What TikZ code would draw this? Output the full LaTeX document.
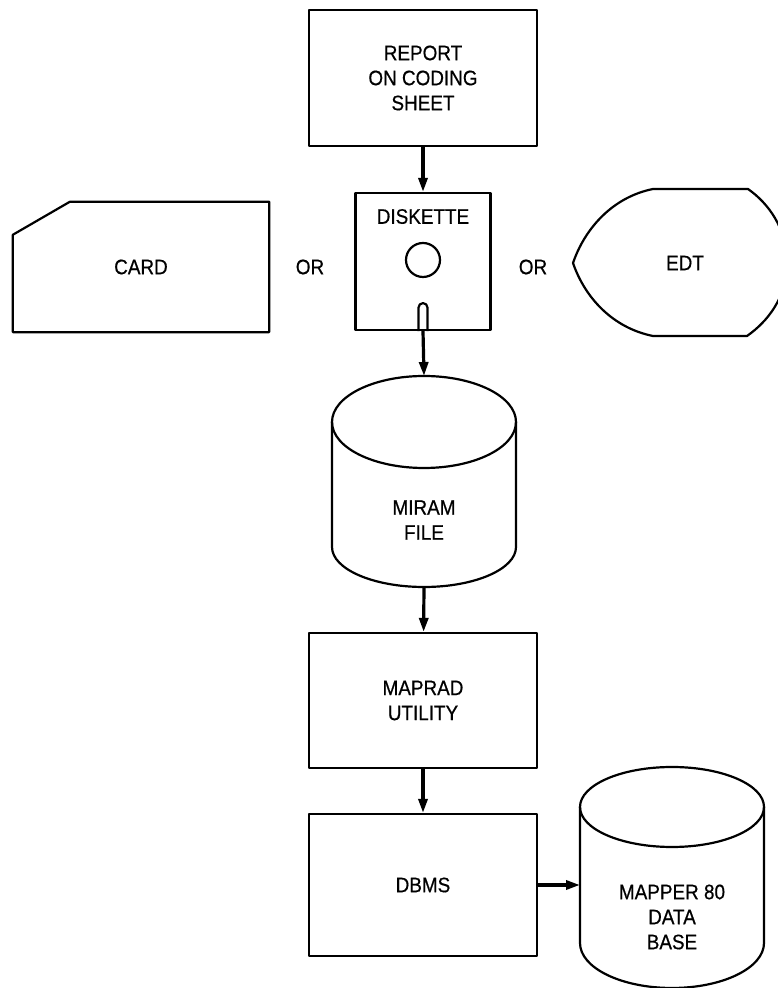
\documentclass[tikz,border=0pt]{standalone}
\usepackage{fontspec}
\setmainfont{Liberation Sans}[FakeStretch=0.9,FakeBold=0.6]
\usetikzlibrary{arrows.meta,positioning,calc}
\tikzset{
  outline/.style={line width=2.2pt,line join=round},
  box/.style={outline,draw,minimum width=228pt,align=center,font=\fontsize{21}{25}\selectfont},
  lbl/.style={align=center,inner sep=0pt,font=\fontsize{21}{25}\selectfont},
  flow/.style={->,line width=3.2pt},
}
% drum: centre node, half width, top ellipse centre, its radius, foot of sides, bottom radius
\newcommand{\drum}[6]{%
  \draw[outline] ($(#1)+(0,#3)$) ellipse [x radius=#2,y radius=#4];
  \draw[outline] ($(#1)+(-#2,#3)$) -- ($(#1)+(-#2,#5)$)
    arc [start angle=180,end angle=360,x radius=#2,y radius=#6] -- ($(#1)+(#2,#3)$);
}
\begin{document}
\begin{tikzpicture}[x=1pt,y=1pt,>={Triangle[length=14pt,width=9pt]}]
  \useasboundingbox (0,0) rectangle (777,988);
  % input media
  \node[box,minimum height=136pt] (report) at (423,910) {REPORT\\ON CODING\\SHEET};
  \node[box,minimum width=135pt,minimum height=137pt] (disk) at (423,726.5) {};
  \node[lbl,below=17pt of disk.north] (disklbl) {DISKETTE};
  \draw[outline] ($(disk.center)+(0,1.5)$) circle (17);
  \draw[outline] ($(disk.south)+(-4.5,0)$) -- ++(0,23.5) arc[start angle=180,end angle=0,radius=4.5] -- ++(0,-23.5);
  \node[lbl,minimum width=256pt,minimum height=130pt] (card) at (141,721) {CARD};
  \draw[outline] ($(card.north west)+(0,-33)$) -- ($(card.north west)+(57,0)$) -- (card.north east)
    -- (card.south east) -- (card.south west) -- cycle;
  \node[lbl] (edt) at (685,725) {EDT};
  \draw[outline] ($(edt)+(-112,0)$) .. controls +(12,35) and +(-40,-8) .. ($(edt)+(-32,74)$)
    -- ($(edt)+(63,74)$) .. controls +(20,-14) and +(0,35) .. ($(edt)+(102,0)$)
    .. controls +(0,-35) and +(20,14) .. ($(edt)+(62,-73)$) -- ($(edt)+(-32,-73)$)
    .. controls +(-40,8) and +(12,-35) .. ($(edt)+(-112,0)$) -- cycle;
  \foreach \x/\n in {310/orcard,533/oredt}
    \node[lbl] (\n) at (\x,721) {OR};
  % files and processing
  \node[lbl] (miram) at (424,468) {MIRAM\\FILE};
  \drum{miram}{92}{98}{46}{-27}{40}
  \coordinate (miramtop) at ($(miram)+(0,144)$);
  \coordinate (miramfoot) at ($(miram)+(0,-67)$);
  \node[box,minimum height=135pt] (maprad) at (423,287.5) {MAPRAD\\UTILITY};
  \node[box,minimum height=142pt] (dbms) at (423,103) {DBMS};
  \node[lbl] (base) at (672,71) {MAPPER 80\\DATA\\BASE};
  \drum{base}{92}{110}{40}{-26}{45}
  \coordinate (basein) at ($(base)+(-92,32)$);
  % flow
  \draw[flow] (report) -- (disk);
  \draw[flow] (disk.south) -- (miramtop);
  \draw[flow] (miramfoot) -- (maprad);
  \draw[flow] (maprad) -- (dbms);
  \draw[flow] (dbms.east) -- (basein);
\end{tikzpicture}
\end{document}
